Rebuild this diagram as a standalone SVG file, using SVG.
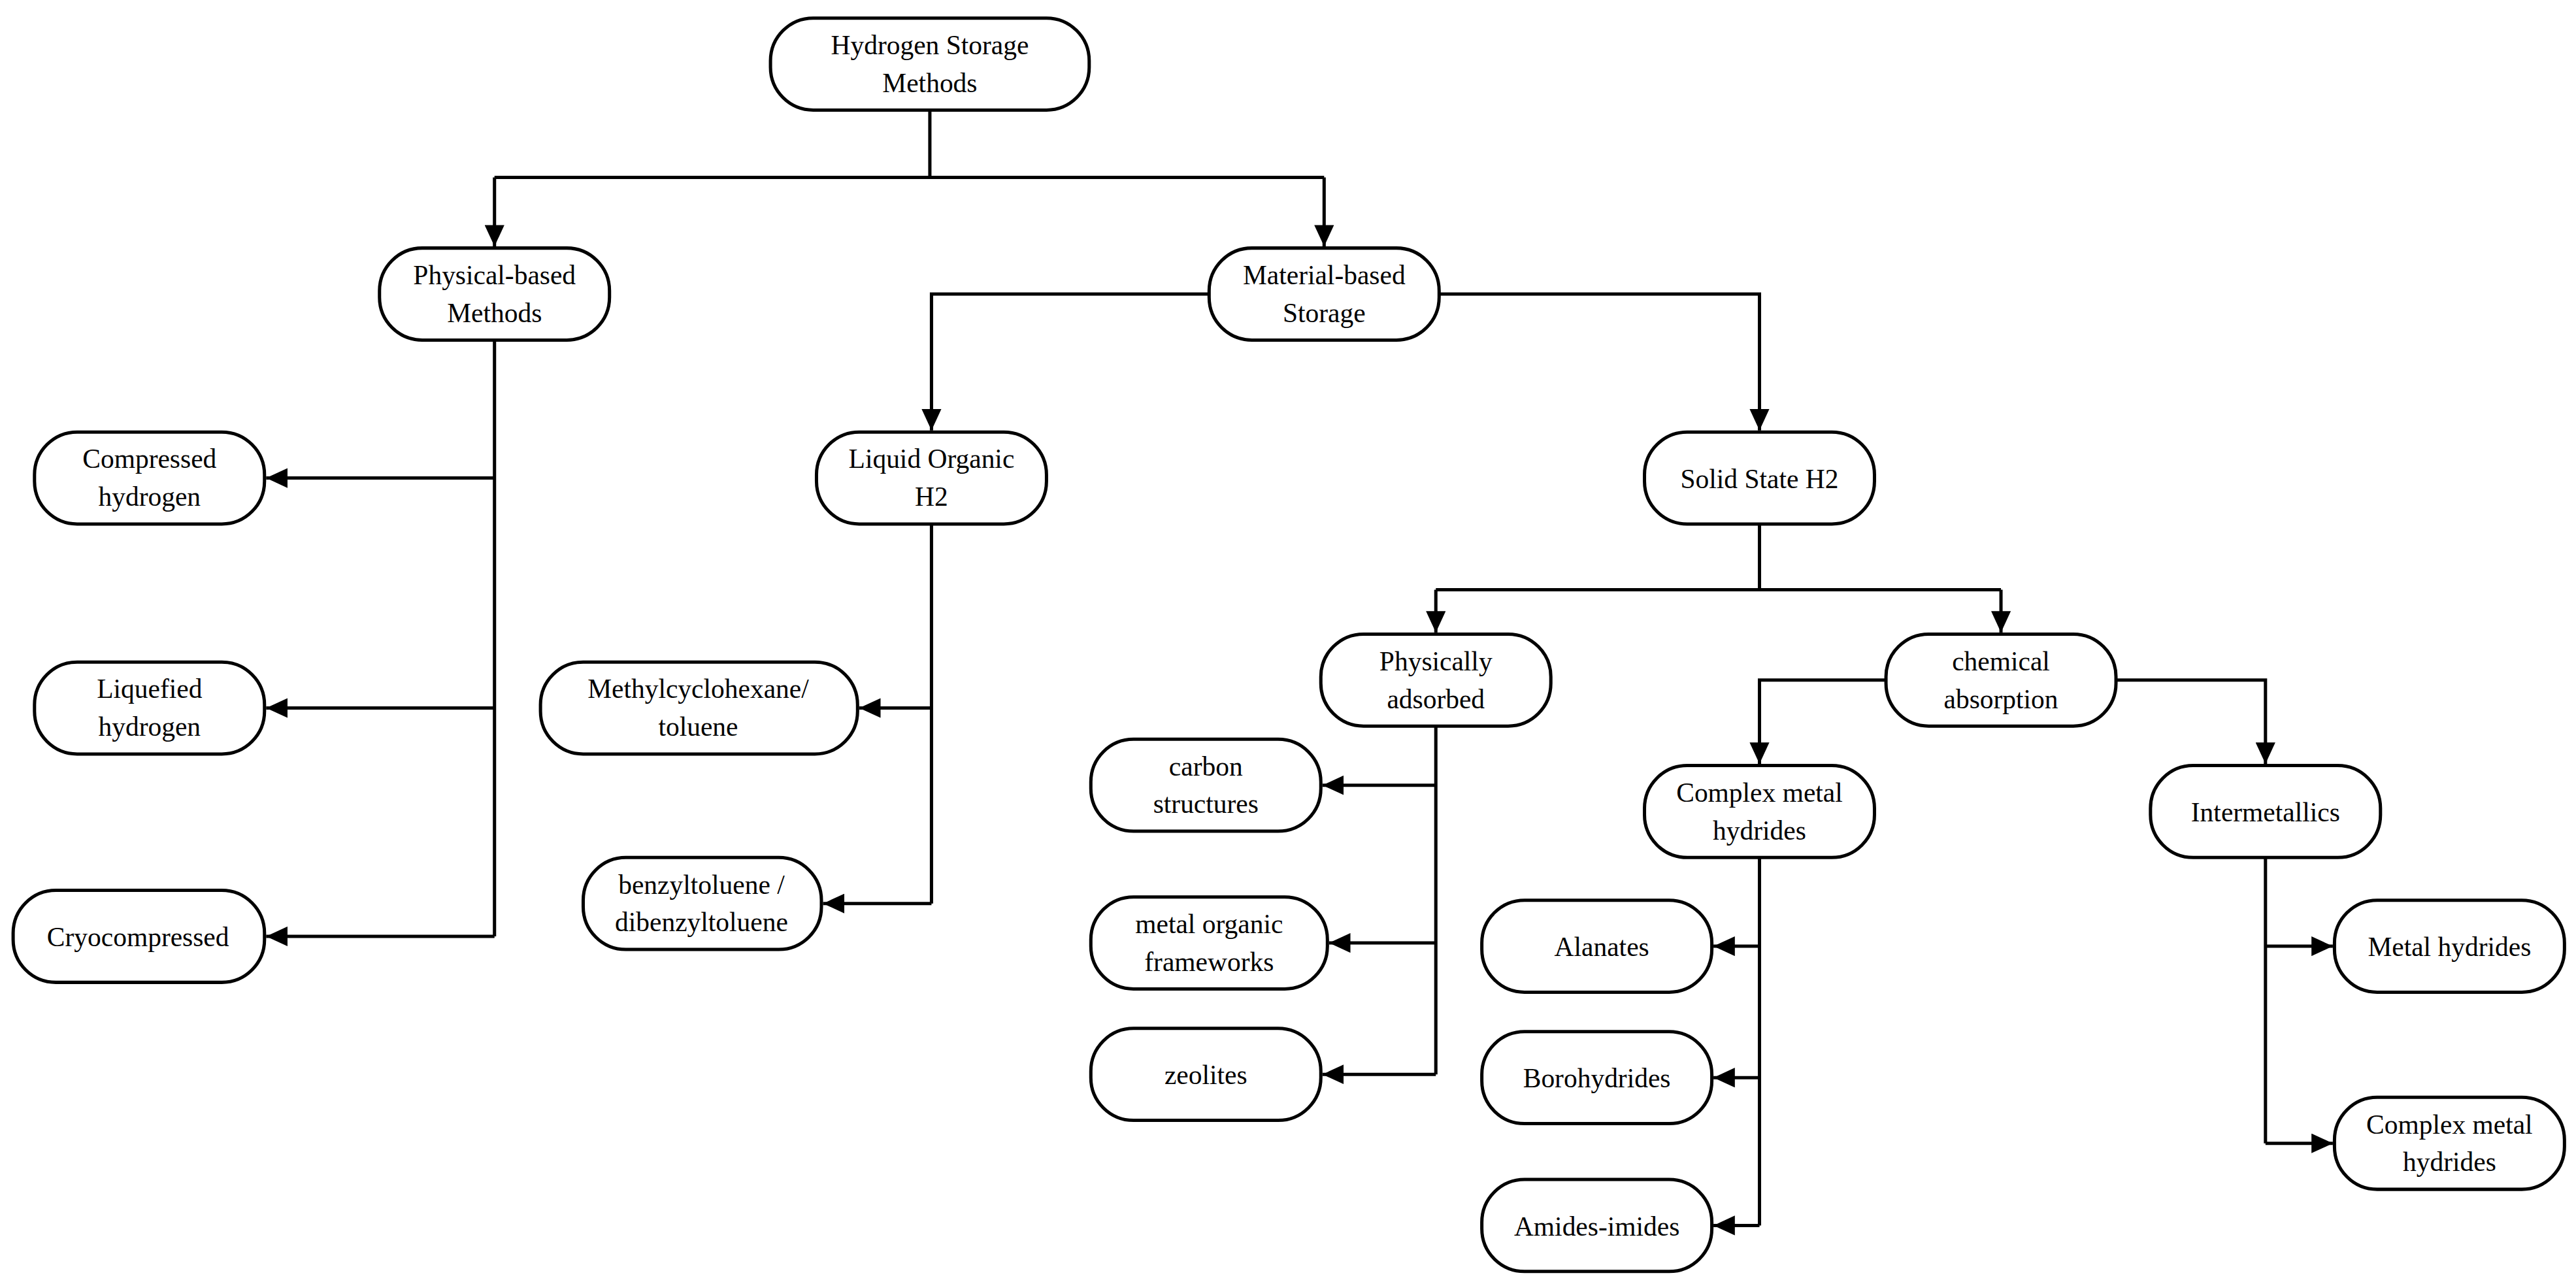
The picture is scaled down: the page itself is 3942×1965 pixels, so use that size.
<svg xmlns="http://www.w3.org/2000/svg" width="3942" height="1965" viewBox="0 0 3942 1965">
<style>
.n rect{fill:#fff;stroke:#000;stroke-width:2}
.n text{font-family:"Liberation Serif",serif;font-size:16.5px;text-anchor:middle;fill:#000}
#c path{fill:none;stroke:#000;stroke-width:2}
</style>
<defs>
<marker id="a" markerUnits="userSpaceOnUse" markerWidth="14" markerHeight="12" refX="13" refY="6" orient="auto"><path d="M0,0L13,6L0,12Z" fill="#000"/></marker>
</defs>
<rect width="3942" height="1965" fill="#fff"/>
<g transform="scale(2.514)">
<g id="c">
<path d="M566,67V108M301,108H806"/>
<path d="M301,108V150" marker-end="url(#a)"/>
<path d="M806,108V150" marker-end="url(#a)"/>
<path d="M301,207V570"/>
<path d="M301,291H162" marker-end="url(#a)"/>
<path d="M301,431H162" marker-end="url(#a)"/>
<path d="M301,570H162" marker-end="url(#a)"/>
<path d="M736,179H567V262" marker-end="url(#a)"/>
<path d="M876,179H1071V262" marker-end="url(#a)"/>
<path d="M567,319V550"/>
<path d="M567,431H523" marker-end="url(#a)"/>
<path d="M567,550H501" marker-end="url(#a)"/>
<path d="M1071,319V359M874,359H1218"/>
<path d="M874,359V385" marker-end="url(#a)"/>
<path d="M1218,359V385" marker-end="url(#a)"/>
<path d="M874,442V654"/>
<path d="M874,478H805" marker-end="url(#a)"/>
<path d="M874,574H809" marker-end="url(#a)"/>
<path d="M874,654H805" marker-end="url(#a)"/>
<path d="M1148,414H1071V465" marker-end="url(#a)"/>
<path d="M1288,414H1379V465" marker-end="url(#a)"/>
<path d="M1071,522V746"/>
<path d="M1071,576H1043" marker-end="url(#a)"/>
<path d="M1071,656H1043" marker-end="url(#a)"/>
<path d="M1071,746H1043" marker-end="url(#a)"/>
<path d="M1379,522V696"/>
<path d="M1379,576H1420" marker-end="url(#a)"/>
<path d="M1379,696H1420" marker-end="url(#a)"/>
</g>
<g id="root" class="n"><rect x="469" y="11" width="194" height="56" rx="26"/><text x="566" y="33">Hydrogen Storage</text><text x="566" y="56">Methods</text></g>
<g id="physical" class="n"><rect x="231" y="151" width="140" height="56" rx="26"/><text x="301" y="173">Physical-based</text><text x="301" y="196">Methods</text></g>
<g id="material" class="n"><rect x="736" y="151" width="140" height="56" rx="26"/><text x="806" y="173">Material-based</text><text x="806" y="196">Storage</text></g>
<g id="compressed" class="n"><rect x="21" y="263" width="140" height="56" rx="26"/><text x="91" y="285">Compressed</text><text x="91" y="308">hydrogen</text></g>
<g id="liquefied" class="n"><rect x="21" y="403" width="140" height="56" rx="26"/><text x="91" y="425">Liquefied</text><text x="91" y="448">hydrogen</text></g>
<g id="cryo" class="n"><rect x="8" y="542" width="153" height="56" rx="26"/><text x="84" y="576">Cryocompressed</text></g>
<g id="loh" class="n"><rect x="497" y="263" width="140" height="56" rx="26"/><text x="567" y="285">Liquid  Organic</text><text x="567" y="308">H2</text></g>
<g id="methyl" class="n"><rect x="329" y="403" width="193" height="56" rx="26"/><text x="425" y="425">Methylcyclohexane/</text><text x="425" y="448">toluene</text></g>
<g id="benzyl" class="n"><rect x="355" y="522" width="145" height="56" rx="26"/><text x="427" y="544">benzyltoluene /</text><text x="427" y="567">dibenzyltoluene</text></g>
<g id="solid" class="n"><rect x="1001" y="263" width="140" height="56" rx="26"/><text x="1071" y="297">Solid State H2</text></g>
<g id="physads" class="n"><rect x="804" y="386" width="140" height="56" rx="26"/><text x="874" y="408">Physically</text><text x="874" y="431">adsorbed</text></g>
<g id="chem" class="n"><rect x="1148" y="386" width="140" height="56" rx="26"/><text x="1218" y="408">chemical</text><text x="1218" y="431">absorption</text></g>
<g id="carbon" class="n"><rect x="664" y="450" width="140" height="56" rx="26"/><text x="734" y="472">carbon</text><text x="734" y="495">structures</text></g>
<g id="mof" class="n"><rect x="664" y="546" width="144" height="56" rx="26"/><text x="736" y="568">metal organic</text><text x="736" y="591">frameworks</text></g>
<g id="zeolites" class="n"><rect x="664" y="626" width="140" height="56" rx="26"/><text x="734" y="660">zeolites</text></g>
<g id="cmh" class="n"><rect x="1001" y="466" width="140" height="56" rx="26"/><text x="1071" y="488">Complex metal</text><text x="1071" y="511">hydrides</text></g>
<g id="inter" class="n"><rect x="1309" y="466" width="140" height="56" rx="26"/><text x="1379" y="500">Intermetallics</text></g>
<g id="alanates" class="n"><rect x="902" y="548" width="140" height="56" rx="26"/><text x="975" y="582">Alanates</text></g>
<g id="boro" class="n"><rect x="902" y="628" width="140" height="56" rx="26"/><text x="972" y="662">Borohydrides</text></g>
<g id="amides" class="n"><rect x="902" y="718" width="140" height="56" rx="26"/><text x="972" y="752">Amides-imides</text></g>
<g id="metalh" class="n"><rect x="1421" y="548" width="140" height="56" rx="26"/><text x="1491" y="582">Metal hydrides</text></g>
<g id="cmh2" class="n"><rect x="1421" y="668" width="140" height="56" rx="26"/><text x="1491" y="690">Complex metal</text><text x="1491" y="713">hydrides</text></g>
</g>
</svg>
